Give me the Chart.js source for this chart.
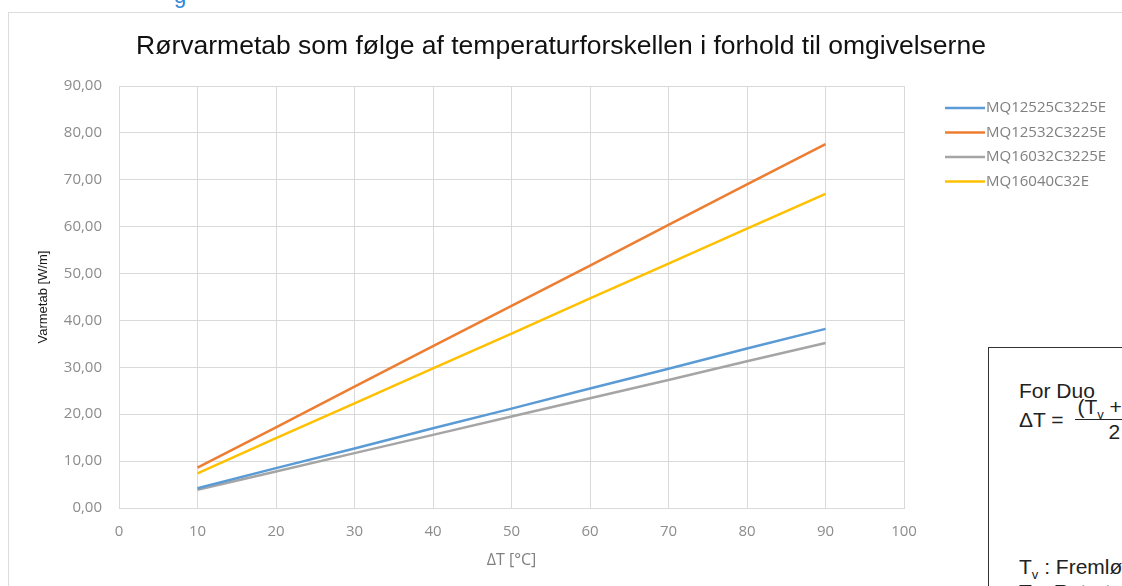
<!DOCTYPE html>
<html>
<head>
<meta charset="utf-8">
<script src="https://cdn.jsdelivr.net/npm/chart.js@4.4.1/dist/chart.umd.min.js"></script>
<style>
  html, body { margin: 0; padding: 0; background: #fff; }
  body { width: 1122px; height: 586px; position: relative; overflow: hidden; }
  #frame { position: absolute; left: 8px; top: 12px; width: 1200px; height: 700px; border: 1px solid #dcdcdc; }
  #wrap { position: absolute; left: 0; top: 0; width: 1122px; height: 586px; }
  #topmark { position: absolute; left: 174px; top: -17px; font: 22px "Liberation Sans", Arial, sans-serif; color: #2f88d8; }
  #formula { position: absolute; left: 988px; top: 347px; width: 300px; height: 300px;
    border: 1px solid #333; background: #fff; font: 21px/24px "Liberation Sans", Arial, sans-serif; color: #222; }
  #formula .l1 { position: absolute; left: 30px; top: 31px; }
  #formula .eq { position: absolute; left: 30px; top: 47px; display: flex; align-items: center; white-space: nowrap; }
  #formula .frac { display: inline-flex; flex-direction: column; align-items: center; margin-left: 6px; }
  #formula .num { border-bottom: 1px solid #222; padding: 0 2px; }
  #formula sub { font-size: 13px; line-height: 0; vertical-align: -5px; }
  #formula .l3 { position: absolute; left: 30px; top: 207px; white-space: nowrap; }
  #formula .l4 { position: absolute; left: 30px; top: 232px; white-space: nowrap; }
</style>
</head>
<body>
<div id="topmark">g</div>
<div id="frame"></div>
<div id="wrap"><canvas id="chart" width="1122" height="586"></canvas></div>
<div id="formula">
  <div class="l1">For Duo</div>
  <div class="eq">ΔT =&nbsp;<span class="frac"><span class="num">(T<sub>v</sub> + T<sub>r</sub>)</span><span class="den">2</span></span>&nbsp;− T<sub>j</sub></div>
  <div class="l3">T<sub>v</sub> : Fremløbstemperatur</div>
  <div class="l4">T<sub>r</sub> : Returtemperatur</div>
</div>
<script>
// values
const deltaT = [10, 20, 30, 40, 50, 60, 70, 80, 90];
const seriesNames = ["MQ12525C3225E", "MQ12532C3225E", "MQ16032C3225E", "MQ16040C32E"];
const mq12525 = [4.2, 8.5, 12.7, 17.0, 21.2, 25.5, 29.7, 34.0, 38.2];
const mq12532 = [8.6, 17.2, 25.9, 34.5, 43.1, 51.7, 60.4, 69.0, 77.6];
const mq16032 = [3.9, 7.8, 11.7, 15.6, 19.5, 23.4, 27.3, 31.3, 35.2];
const mq16040 = [7.4, 14.9, 22.3, 29.8, 37.2, 44.7, 52.1, 59.6, 67.0];
const colors = ["#5b9bd5", "#ed7d31", "#a5a5a5", "#ffc000"];
const chartTitle = "Rørvarmetab som følge af temperaturforskellen i forhold til omgivelserne";

const tickColor = "#8c8c8c";
const gridColor = "#d9d9d9";
const tickFont = { family: "'Open Sans', sans-serif", size: 15 };

function toPoints(values) {
  return values.map((v, i) => ({ x: deltaT[i], y: v }));
}

// title centred on the whole canvas, legend to the right of the plot (Excel style)
const decorations = {
  id: "decorations",
  afterDraw(chart) {
    const ctx = chart.ctx;
    ctx.save();
    ctx.fillStyle = "#111";
    ctx.font = "26.5px 'Liberation Sans', Arial, sans-serif";
    ctx.textAlign = "center";
    ctx.textBaseline = "middle";
    ctx.fillText(chartTitle, chart.width / 2, 47);

    const x0 = chart.chartArea.right + 41;
    ctx.textAlign = "left";
    ctx.font = "15px 'Open Sans', sans-serif";
    chart.data.datasets.forEach((ds, i) => {
      const y = 108 + i * 24.5;
      ctx.strokeStyle = ds.borderColor;
      ctx.lineWidth = 2.5;
      ctx.beginPath();
      ctx.moveTo(x0, y);
      ctx.lineTo(x0 + 40, y);
      ctx.stroke();
      ctx.fillStyle = "#808080";
      ctx.fillText(ds.label, x0 + 41, y);
    });
    ctx.restore();
  }
};

const allSeries = [mq12525, mq12532, mq16032, mq16040];

new Chart(document.getElementById("chart"), {
  type: "line",
  data: {
    datasets: allSeries.map((vals, i) => ({
      label: seriesNames[i],
      data: toPoints(vals),
      borderColor: colors[i],
      backgroundColor: colors[i],
      borderWidth: 2.5,
      pointRadius: 0,
      tension: 0
    }))
  },
  options: {
    responsive: false,
    animation: false,
    layout: { padding: { left: 30, right: 218, top: 86, bottom: 0 } },
    plugins: {
      legend: { display: false },
      tooltip: { enabled: false },
      title: { display: false }
    },
    scales: {
      x: {
        type: "linear",
        min: 0,
        max: 100,
        ticks: { stepSize: 10, color: tickColor, padding: 15, font: tickFont },
        grid: { color: gridColor, drawTicks: false },
        border: { color: gridColor },
        title: {
          display: true,
          text: "ΔT [°C]",
          color: "#7f7f7f",
          font: { family: "'Open Sans', sans-serif", size: 16 },
          padding: { top: 0, bottom: 16 }
        },
        afterFit(scale) { scale.height = 78; }
      },
      y: {
        min: 0,
        max: 90,
        ticks: {
          stepSize: 10,
          color: tickColor,
          padding: 17,
          font: tickFont,
          callback: v => v.toFixed(2).replace(".", ",")
        },
        grid: { color: gridColor, drawTicks: false },
        border: { color: gridColor },
        title: {
          display: true,
          text: "Varmetab [W/m]",
          color: "#1a1a1a",
          font: { family: "'Liberation Sans', Arial, sans-serif", size: 13 },
          padding: { top: 6, bottom: 0 }
        },
        afterFit(scale) { scale.width = 89; }
      }
    }
  },
  plugins: [decorations]
});
</script>
</body>
</html>
